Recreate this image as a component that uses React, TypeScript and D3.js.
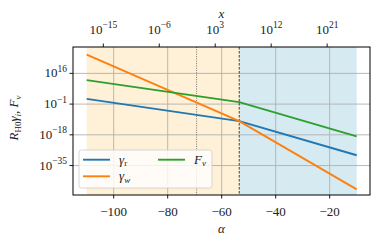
import React from "react";
import * as d3 from "d3";

// alpha grid where the slopes change (start, equality, end)
const alphaKnots = [-110, -53.5, -10];
// log10 values
const gammaR = [1.9, -10.4, -29.3];
const gammaW = [26.4, -10.4, -48.2];
const fNu = [12.3, 0.1, -18.9];

const alphaEq = -53.5;
const alphaX1 = -69.3; // x = 1
const alphaOffset = -69.3; // alpha = ln(x) + offset

const bottomTicks = [-100, -80, -60, -40, -20];
const topTicks = [-15, -6, 3, 12, 21];
const yTicks = [16, -1, -18, -35];

const series = [
  { key: "r", vals: gammaR, color: "#1f77b4" },
  { key: "w", vals: gammaW, color: "#ff7f0e" },
  { key: "F", vals: fNu, color: "#2ca02c" },
];

const W = 381;
const H = 246;
const margin = { top: 47, right: 11, bottom: 51, left: 73 };
const FONT = "Liberation Serif";

const fmt = (e: number) => (e < 0 ? "\u2212" + Math.abs(e) : String(e));

export default function App() {
  const iw = W - margin.left - margin.right;
  const ih = H - margin.top - margin.bottom;

  const x = d3.scaleLinear().domain([-115.07, -5.07]).range([0, iw]);
  const y = d3.scaleLog().domain([10 ** -51.3, 10 ** 30.6]).range([ih, 0]);

  const line = d3
    .line<[number, number]>()
    .x((d) => x(d[0]))
    .y((d) => y(10 ** d[1]));

  const gridColor = "#b0b0b0";
  const lw = 1.9;

  return (
    <svg
      width={W}
      height={H}
      fontFamily={FONT}
      fill="#222"
      style={{ position: "absolute", left: 0, top: 0 }}
    >
      <rect width={W} height={H} fill="#fff" />
      <g transform={`translate(${margin.left},${margin.top})`}>
        {/* shaded eras */}
        <rect
          x={x(alphaKnots[0])}
          y={0}
          width={x(alphaEq) - x(alphaKnots[0])}
          height={ih}
          fill="#fff1d8"
        />
        <rect
          x={x(alphaEq)}
          y={0}
          width={x(alphaKnots[2]) - x(alphaEq)}
          height={ih}
          fill="#d6eaf2"
        />

        {/* grid */}
        {bottomTicks.map((t) => (
          <line
            key={"gx" + t}
            x1={x(t)}
            x2={x(t)}
            y1={0}
            y2={ih}
            stroke={gridColor}
            strokeWidth={0.9}
          />
        ))}
        {yTicks.map((t) => (
          <line
            key={"gy" + t}
            x1={0}
            x2={iw}
            y1={y(10 ** t)}
            y2={y(10 ** t)}
            stroke={gridColor}
            strokeWidth={0.9}
          />
        ))}

        {/* x = 1 and equality markers */}
        <line
          x1={x(alphaX1)}
          x2={x(alphaX1)}
          y1={0}
          y2={ih}
          stroke="#555"
          strokeWidth={0.8}
          strokeDasharray="1,1.3"
        />
        <line
          x1={x(alphaEq)}
          x2={x(alphaEq)}
          y1={0}
          y2={ih}
          stroke="#111"
          strokeWidth={0.8}
          strokeDasharray="2.5,1.5"
        />

        {series.map((s) => (
          <path
            key={s.key}
            d={line(alphaKnots.map((a, i) => [a, s.vals[i]]) as [number, number][]) || ""}
            fill="none"
            stroke={s.color}
            strokeWidth={lw}
            strokeLinejoin="round"
          />
        ))}

        {/* frame */}
        <rect x={0} y={0} width={iw} height={ih} fill="none" stroke="#000" strokeWidth={1} />

        {/* bottom axis */}
        {bottomTicks.map((t) => (
          <g key={"bt" + t} transform={`translate(${x(t)},${ih})`}>
            <line y2={3.5} stroke="#000" strokeWidth={0.9} />
            <text y={21} textAnchor="middle" fontSize={13}>
              {fmt(t)}
            </text>
          </g>
        ))}
        <text x={iw / 2} y={ih + 38} textAnchor="middle" fontSize={13} fontStyle="italic">
          α
        </text>

        {/* top axis */}
        {topTicks.map((t) => (
          <g key={"tt" + t} transform={`translate(${x(t * Math.LN10 + alphaOffset)},0)`}>
            <line y2={-3.5} stroke="#000" strokeWidth={0.9} />
            <text y={-13.5} textAnchor="middle" fontSize={13}>
              10
              <tspan dy={-5.5} fontSize={9.5}>
                {fmt(t)}
              </tspan>
            </text>
          </g>
        ))}
        <text x={iw / 2} y={-29} textAnchor="middle" fontSize={13} fontStyle="italic">
          x
        </text>

        {/* y axis */}
        {yTicks.map((t) => (
          <g key={"yt" + t} transform={`translate(0,${y(10 ** t)})`}>
            <line x2={-3.5} stroke="#000" strokeWidth={0.9} />
            <text x={-6} y={4} textAnchor="end" fontSize={13}>
              10
              <tspan dy={-5.5} fontSize={9.5}>
                {fmt(t)}
              </tspan>
            </text>
          </g>
        ))}
        <text
          transform={`translate(${-55},${ih / 2 - 3}) rotate(-90)`}
          textAnchor="middle"
          fontSize={13}
        >
          <tspan fontStyle="italic">R</tspan>
          <tspan fontSize={9} dy={2.5}>H0</tspan>
          <tspan dy={-2.5} fontStyle="italic">γ</tspan>
          <tspan fontSize={9} dy={2.5} fontStyle="italic">i</tspan>
          <tspan dy={-2.5}>, </tspan>
          <tspan fontStyle="italic">F</tspan>
          <tspan fontSize={9} dy={2.5} fontStyle="italic">ν</tspan>
        </text>

        {/* legend */}
        <g transform={`translate(${79 - margin.left},${150 - margin.top})`}>
          <rect
            width={133}
            height={38}
            rx={2.5}
            fill="#fff"
            fillOpacity={0.8}
            stroke="#cccccc"
            strokeWidth={0.8}
          />
          <line x1={4} x2={31} y1={9.7} y2={9.7} stroke={series[0].color} strokeWidth={lw} />
          <text x={40} y={13.5} fontSize={13}>
            <tspan fontStyle="italic">γ</tspan>
            <tspan fontSize={9} dy={2.5}>r</tspan>
          </text>
          <line x1={4} x2={31} y1={26.3} y2={26.3} stroke={series[1].color} strokeWidth={lw} />
          <text x={40} y={30} fontSize={13}>
            <tspan fontStyle="italic">γ</tspan>
            <tspan fontSize={9} dy={2.5} fontStyle="italic">w</tspan>
          </text>
          <line x1={79} x2={106} y1={9.7} y2={9.7} stroke={series[2].color} strokeWidth={lw} />
          <text x={115} y={13.5} fontSize={13}>
            <tspan fontStyle="italic">F</tspan>
            <tspan fontSize={9} dy={2.5} fontStyle="italic">ν</tspan>
          </text>
        </g>
      </g>
    </svg>
  );
}
